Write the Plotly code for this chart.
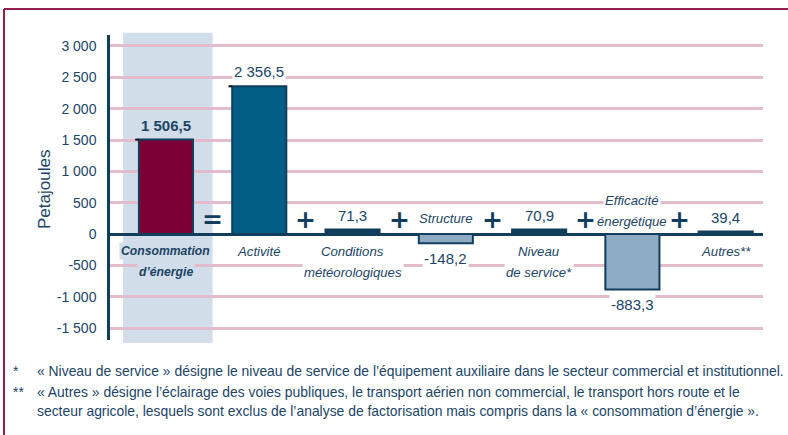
import plotly.graph_objects as go

categories = ["Consommation<br>d’énergie", "Activité", "Conditions<br>météorologiques",
              "Structure", "Niveau<br>de service*", "Efficacité<br>énergétique", "Autres**"]
values = [1506.5, 2356.5, 71.3, -148.2, 70.9, -883.3, 39.4]
operators = ["=", "+", "+", "+", "+", "+"]
tick_vals = [-1500, -1000, -500, 0, 500, 1000, 1500, 2000, 2500, 3000]
tick_text = ["-1 500", "-1 000", "-500", "0", "500", "1 000", "1 500", "2 000", "2 500", "3 000"]
footnotes = [
    ("*", "« Niveau de service » désigne le niveau de service de l’équipement auxiliaire dans le secteur commercial et institutionnel."),
    ("**", "« Autres » désigne l’éclairage des voies publiques, le transport aérien non commercial, le transport hors route et le"),
    ("", "secteur agricole, lesquels sont exclus de l’analyse de factorisation mais compris dans la « consommation d’énergie »."),
]

NAVY = "#123e5e"
TXT = "#1b4466"
MAROON = "#7a0036"
TEAL = "#005e85"
LIGHT = "#8eabc4"
BAND = "#d1dde8"
GRID = "#e3bccb"
FONT = "Liberation Sans, Arial, sans-serif"

bar_colors = []
for i, v in enumerate(values):
    if i == 0:
        bar_colors.append(MAROON)
    elif i == 1:
        bar_colors.append(TEAL)
    elif v < 0:
        bar_colors.append(LIGHT)
    else:
        bar_colors.append(NAVY)

xs = list(range(len(values)))

fig = go.Figure()
fig.add_trace(go.Bar(
    x=xs, y=values, width=0.58,
    marker=dict(color=bar_colors, line=dict(color=NAVY, width=2)),
    showlegend=False, hoverinfo="skip",
))

def fmt(v):
    s = f"{abs(v):,.1f}".replace(",", " ").replace(".", ",")
    return ("-" if v < 0 else "") + s

ann = []
for i, (c, v) in enumerate(zip(categories, values)):
    lines = c.split("<br>")
    if i == 0:
        wrap = "<b><i>{}</i></b>"
        lsize = 12.2
    else:
        wrap = "<i>{}</i>"
        lsize = 13.2
    bg = BAND if i == 0 else "white"
    vt = f"<b>{fmt(v)}</b>" if i == 0 else fmt(v)
    if v >= 0:
        shifts = [-17, -38][:len(lines)]
    else:
        shifts = [16] if len(lines) == 1 else [34, 13]
    for ln, sh in zip(lines, shifts):
        ann.append(dict(x=i, y=0, text=wrap.format(ln), yanchor="middle", yshift=sh,
                        showarrow=False, font=dict(family=FONT, size=lsize, color=TXT),
                        bgcolor=bg, borderpad=1))
    if v >= 0:
        ann.append(dict(x=i, y=v, text=vt, yanchor="bottom", yshift=4, showarrow=False,
                        font=dict(family=FONT, size=15, color=TXT), bgcolor=bg))
    else:
        ann.append(dict(x=i, y=v, text=vt, yanchor="top", yshift=-5, showarrow=False,
                        font=dict(family=FONT, size=15, color=TXT), bgcolor=bg))

for i, op in enumerate(operators):
    ann.append(dict(x=i + 0.5, y=0, text=f"<b>{op}</b>", yanchor="middle", yshift=15,
                    showarrow=False, font=dict(family="DejaVu Sans, sans-serif", size=25, color=NAVY)))

# y axis title
ann.append(dict(xref="paper", yref="paper", x=(44 - 110) / 653, y=(340 - 190) / 305,
                xanchor="center", yanchor="middle",
                text="Petajoules", textangle=-90, showarrow=False,
                font=dict(family=FONT, size=17, color=TXT)))

# footnotes
fy = [371, 392, 411]
for (mark, txt), py in zip(footnotes, fy):
    yp = (340 - py) / 305
    if mark:
        ann.append(dict(xref="paper", yref="paper", x=(11 - 110) / 653, y=yp, text=mark,
                        xanchor="left", yanchor="middle", showarrow=False,
                        font=dict(family=FONT, size=13.9, color=TXT)))
    ann.append(dict(xref="paper", yref="paper", x=(35 - 110) / 653, y=yp, text=txt,
                    xanchor="left", yanchor="middle", showarrow=False,
                    font=dict(family=FONT, size=13.9, color=TXT)))

shapes = [
    dict(type="rect", xref="x", yref="paper", x0=-0.46, x1=0.5, y0=-0.01, y1=1.007,
         fillcolor=BAND, line=dict(width=0), layer="below"),
    dict(type="line", xref="paper", yref="paper", x0=(4 - 110) / 653, x1=(800 - 110) / 653,
         y0=(340 - 9) / 305, y1=(340 - 9) / 305, line=dict(color="#93204f", width=2)),
    dict(type="line", xref="paper", yref="paper", x0=(4 - 110) / 653, x1=(4 - 110) / 653,
         y0=(340 - 9) / 305, y1=(340 - 445) / 305, line=dict(color="#93204f", width=2)),
]
for i in (0, 1):
    shapes.append(dict(type="line", xref="x", yref="y", x0=i - 0.33, x1=i - 0.29,
                       y0=values[i], y1=values[i], line=dict(color="#111111", width=2)))

fig.update_layout(
    width=788, height=435,
    margin=dict(l=110, r=25, t=35, b=95),
    paper_bgcolor="white", plot_bgcolor="white",
    xaxis=dict(range=[-0.6, 6.4], showticklabels=False, showgrid=False, zeroline=False,
               showline=False, fixedrange=True, automargin=False),
    yaxis=dict(range=[-1690, 3175], tickvals=tick_vals, ticktext=tick_text,
               showgrid=True, gridcolor=GRID, gridwidth=2.5,
               zeroline=True, zerolinecolor=NAVY, zerolinewidth=2.5,
               showline=True, linecolor=NAVY, linewidth=2.5, ticks="",
               ticklabelstandoff=8, automargin=False,
               tickfont=dict(family=FONT, size=14, color=TXT)),
    annotations=ann, shapes=shapes, showlegend=False,
)

fig.write_html("out.html", config={"displayModeBar": False},
               post_script="document.body.style.margin='0';")
